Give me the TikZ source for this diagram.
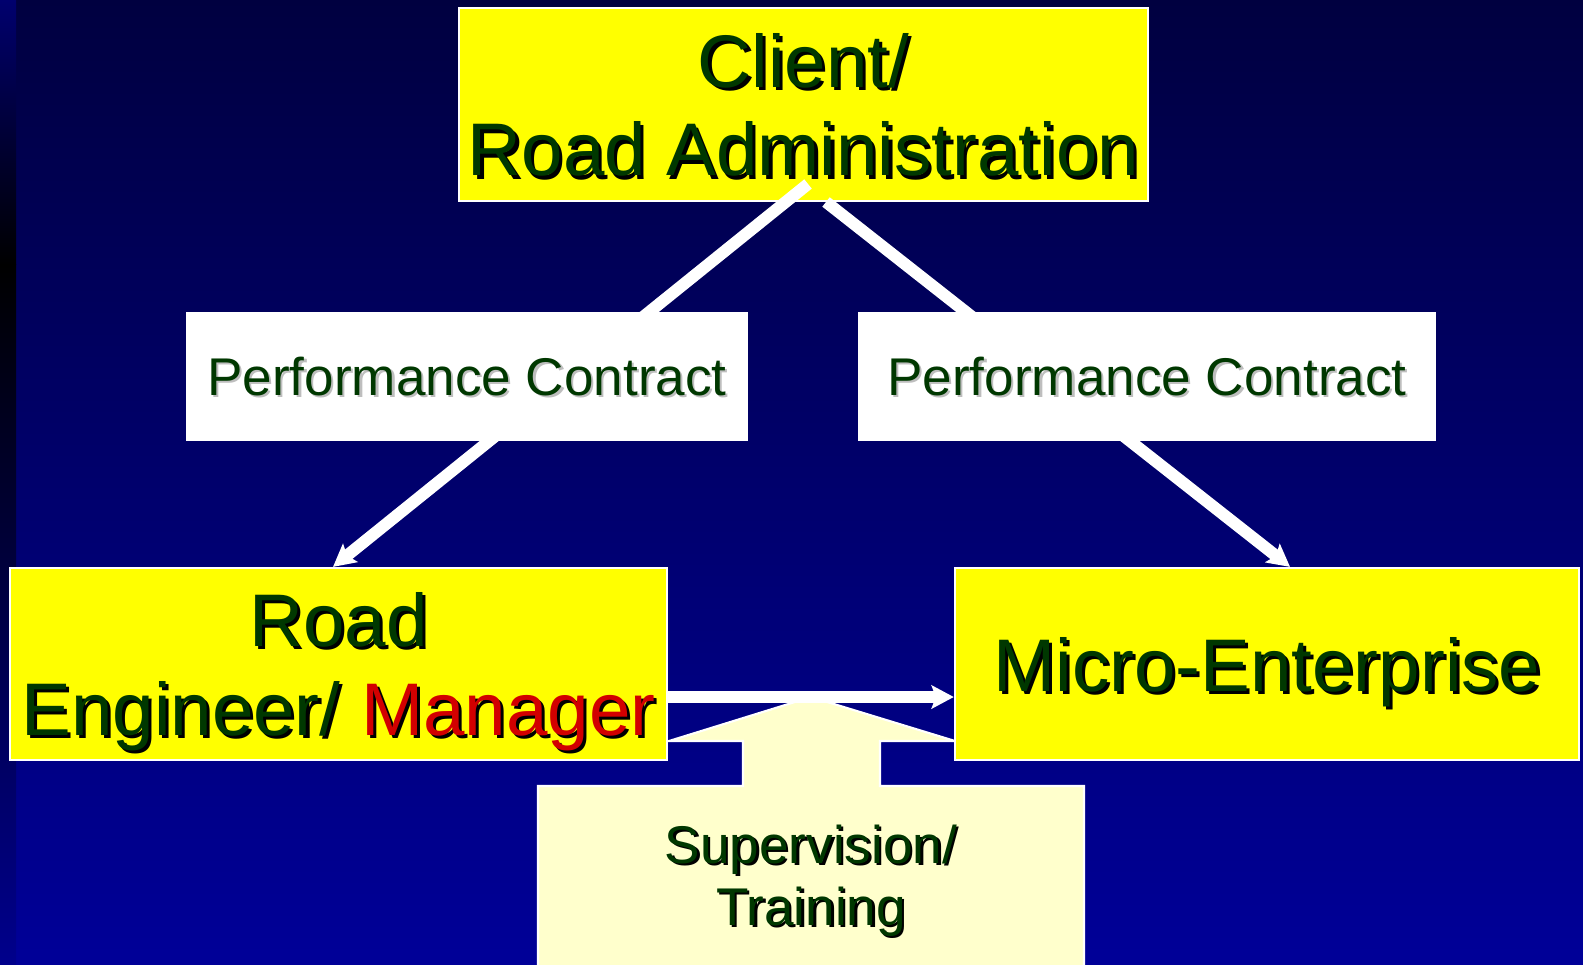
\documentclass[tikz,border=0pt]{standalone}
\usepackage{fontspec}
\setmainfont{Liberation Sans}
\usetikzlibrary{arrows.meta,positioning,calc}

\definecolor{slidetop}{RGB}{0,0,64}
\definecolor{slidebot}{RGB}{0,0,152}
\definecolor{striptop}{RGB}{0,0,110}
\definecolor{stripbot}{RGB}{0,0,140}
\definecolor{txtgreen}{RGB}{0,56,0}
\definecolor{mgrred}{RGB}{210,0,0}
\definecolor{boxyellow}{RGB}{255,255,0}
\definecolor{callfill}{RGB}{255,255,204}
\definecolor{shadowgray}{RGB}{190,190,190}

\newcommand{\hl}[1]{\textcolor{mgrred}{#1}}
\newcommand{\plainhl}[1]{#1}
% text with a drop shadow
\newcommand{\shdcolor}{black}
\newcommand{\shdoff}{0.9pt}
\newcommand{\shd}[1]{\leavevmode\rlap{\kern\shdoff\raisebox{-\shdoff}{\color{\shdcolor}\let\hl\plainhl#1}}#1}
\newcommand{\bigfont}{\fontsize{21.2}{25.3}\selectfont}
\newcommand{\smallfont}{\fontsize{15.1}{17.6}\selectfont}

\begin{document}
\begin{tikzpicture}
  [
  x=0.01cm, y=-0.01cm,
  ybox/.style={rectangle, fill=boxyellow, draw=white, line width=0.6pt, minimum height=1.92cm, text=txtgreen, font=\bigfont, align=center, inner sep=0pt, text depth=0pt},
  contract/.style={rectangle, fill=white, minimum height=1.29cm, text=txtgreen, font=\smallfont, inner sep=0pt, text depth=0pt,
    execute at begin node={\renewcommand{\shdcolor}{shadowgray}\renewcommand{\shdoff}{0.6pt}}},
  flow/.style={white, line width=3.4pt, -{Stealth[length=6.3pt,width=6.6pt,inset=1.2pt]}}
  ]

\shade[top color=slidetop, bottom color=slidebot] (0,0) rectangle (1583,965);
\shade[top color=striptop, bottom color=black] (0,0) rectangle (16,265);
\shade[top color=black, bottom color=stripbot] (0,265) rectangle (16,965);
\useasboundingbox (0,0) rectangle (1583,965);

% up arrow callout
\draw[white, line width=0.6pt, fill=callfill] (538,975) -- (538,786) -- (743,786) -- (743,741) -- (669,741) -- (811,697)
  -- (955,741) -- (880,741) -- (880,786) -- (1084,786) -- (1084,975) -- cycle;
\node[text=txtgreen, font=\smallfont, align=center, text depth=0pt] (supervision) at (811,875)
  {\renewcommand{\shdoff}{0.7pt}\shd{Supervision/}\\\renewcommand{\shdoff}{0.7pt}\shd{Training}};

\node[ybox, minimum width=6.89cm, minimum height=1.93cm] (client) at (803.5,104.5) {\shd{Client/}\\\shd{Road Administration}};
\node[ybox, minimum width=6.57cm] (engineer) at (338.5,664) {\shd{Road}\\\shd{Engineer/ \hl{Manager}}};
\node[ybox, minimum width=6.24cm] (micro) at (1267,664) {\shd{Micro-Enterprise}};

\coordinate (lstart) at (808,184);
\coordinate (rstart) at (826,202);
\draw[flow] (lstart) -- ([xshift=-0.055cm]engineer.north);
\draw[flow] (rstart) -- ([xshift=0.23cm]micro.north);
\draw[flow] ([yshift=-0.33cm]engineer.east) -- ([yshift=-0.33cm]micro.west);

\node[contract, minimum width=5.62cm] (lcontract) at (467,376.5) {\shd{Performance Contract}};
\node[contract, minimum width=5.78cm] (rcontract) at (1147,376.5) {\shd{Performance Contract}};

\end{tikzpicture}
\end{document}
